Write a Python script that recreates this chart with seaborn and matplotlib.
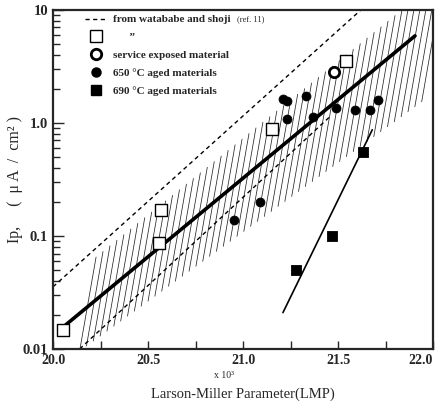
import numpy as np
import pandas as pd
import seaborn as sns
import matplotlib
matplotlib.use("Agg")
import matplotlib.pyplot as plt
from matplotlib.lines import Line2D

# data (x in units of 10^3)
sq_open_x = [20.05, 20.56, 20.57, 21.15, 21.54]
sq_open_y = [0.0148, 0.087, 0.17, 0.88, 3.5]

circ_open_x = [21.48]
circ_open_y = [2.85]

aged650_x = [20.95, 21.09, 21.21, 21.23, 21.23, 21.33, 21.37, 21.49, 21.59, 21.67, 21.71]
aged650_y = [0.139, 0.20, 1.62, 1.55, 1.08, 1.74, 1.13, 1.35, 1.31, 1.31, 1.59]

aged690_x = [21.28, 21.47, 21.63]
aged690_y = [0.050, 0.10, 0.55]

fit_all_x = [20.04, 21.905]
fit_all_y = [0.0150, 5.9]

fit_690_x = [21.21, 21.68]
fit_690_y = [0.021, 0.87]

watanabe_up_x = [20.0, 21.62]
watanabe_up_y = [0.0355, 10.0]
watanabe_lo_x = [20.14, 21.46]
watanabe_lo_y = [0.010, 1.15]

band_lower_x = [20.14, 21.96]
band_lower_y = [0.0096, 1.63]
band_upper_x = [20.19, 21.83]
band_upper_y = [0.058, 9.8]

x_ticks = [20.0, 20.5, 21.0, 21.5, 22.0]
y_ticks = [0.01, 0.1, 1.0, 10.0]
y_tick_labels = ["0.01", "0.1", "1.0", "10"]

sns.set_style("ticks")
plt.rcParams["font.family"] = ["Liberation Serif", "DejaVu Serif"]

fig = plt.figure(figsize=(4.44, 4.15), dpi=100)
ax = fig.add_axes([0.1194, 0.159, 0.856, 0.817])
ax.set_yscale("log")

# hatched band: steep strokes running from the lower to the upper boundary
lo_b, lo_a = np.polyfit(band_lower_x, np.log10(band_lower_y), 1)
up_b, up_a = np.polyfit(band_upper_x, np.log10(band_upper_y), 1)
k = 9.6
for x0 in np.arange(band_lower_x[0], band_lower_x[1], 0.036):
    y0 = lo_a + lo_b * x0
    x1 = (up_a - y0 + k * x0) / (k - up_b)
    y1 = y0 + k * (x1 - x0)
    ax.plot([x0, x1], [10 ** y0, 10 ** y1], color="0.15", lw=0.55, zorder=1)

dash = (0, (3, 2.5))
sns.lineplot(x=watanabe_up_x, y=watanabe_up_y, ax=ax, color="k", lw=1.0,
             linestyle=dash, estimator=None, sort=False)
sns.lineplot(x=watanabe_lo_x, y=watanabe_lo_y, ax=ax, color="k", lw=1.0,
             linestyle=dash, estimator=None, sort=False)
sns.lineplot(x=fit_all_x, y=fit_all_y, ax=ax, color="k", lw=2.6,
             estimator=None, sort=False)
sns.lineplot(x=fit_690_x, y=fit_690_y, ax=ax, color="k", lw=1.2,
             estimator=None, sort=False)

sns.scatterplot(x=sq_open_x, y=sq_open_y, ax=ax, marker="s", s=75,
                facecolor="white", edgecolor="k", linewidth=1.0, zorder=4)
sns.scatterplot(x=circ_open_x, y=circ_open_y, ax=ax, marker="o", s=55,
                facecolor="white", edgecolor="k", linewidth=2.0, zorder=4)
sns.scatterplot(x=aged650_x, y=aged650_y, ax=ax, marker="o", s=42,
                color="k", edgecolor="k", zorder=4)
sns.scatterplot(x=aged690_x, y=aged690_y, ax=ax, marker="s", s=58,
                color="k", edgecolor="k", zorder=4)

ax.set_xlim(20.0, 22.0)
ax.set_ylim(0.01, 10.0)
ax.set_xticks(x_ticks)
ax.set_xticklabels([f"{v:.1f}" for v in x_ticks], fontweight="bold", fontsize=10)
ax.get_xticklabels()[-1].set_ha("right")
ax.set_xticks(np.arange(20.25, 22.0, 0.5), minor=True)
ax.set_yticks(y_ticks)
ax.set_yticklabels(y_tick_labels, fontweight="bold", fontsize=10.5)
ax.tick_params(axis="both", which="both", direction="in", top=False, right=False)
ax.tick_params(axis="x", which="both", length=6, width=1.0)
ax.tick_params(axis="y", which="major", length=8, width=1.0)
ax.tick_params(axis="y", which="minor", length=5, width=1.0)
for sp in ax.spines.values():
    sp.set_linewidth(1.6)

ax.set_xlabel("Larson-Miller Parameter(LMP)", fontsize=10.5, labelpad=15)
ax.text(0.45, -0.077, "x 10³", transform=ax.transAxes, ha="center", va="center",
        fontsize=7)
ax.set_ylabel("Ip,     (  μ A  /  cm² )", fontsize=11.5)
ax.yaxis.set_label_coords(-0.08, 0.50)

handles = [
    Line2D([], [], color="k", lw=1.0, linestyle=dash),
    Line2D([], [], marker="s", mfc="white", mec="k", mew=1.0, ms=9, ls="none"),
    Line2D([], [], marker="o", mfc="white", mec="k", mew=2.0, ms=7.5, ls="none"),
    Line2D([], [], marker="o", color="k", ms=6.5, ls="none"),
    Line2D([], [], marker="s", color="k", ms=7.5, ls="none"),
]
labels = [
    "from watababe and shoji",
    "      \u201d",
    "service exposed material",
    "650 °C aged materials",
    "690 °C aged materials",
]
ax.legend(handles, labels, loc="upper left", bbox_to_anchor=(0.084, 0.986),
          frameon=False, borderpad=0, borderaxespad=0, handlelength=2.0,
          handletextpad=0.55, labelspacing=0.72,
          prop={"weight": "bold", "size": 8})
ax.text(0.484, 0.973, "(ref. 11)", transform=ax.transAxes, ha="left",
        va="center", fontsize=6)

fig.savefig("out.png", dpi=100)
